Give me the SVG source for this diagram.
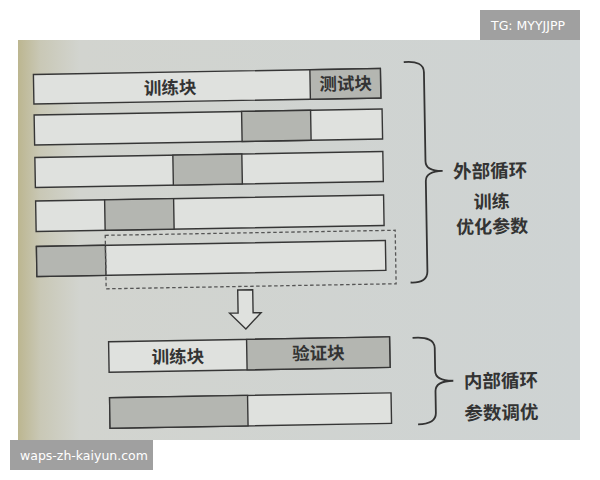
<svg xmlns="http://www.w3.org/2000/svg" width="600" height="480" viewBox="0 0 600 480">
<defs>
<linearGradient id="paper" x1="0" y1="0" x2="1" y2="0">
<stop offset="0" stop-color="#bcb690"/>
<stop offset="0.04" stop-color="#c9c8b6"/>
<stop offset="0.11" stop-color="#d2d4cf"/>
<stop offset="1" stop-color="#ced3d3"/>
</linearGradient>
<style>
.bar{fill:#dfe1de;stroke:#363636;stroke-width:1.4}
.dark{fill:#b4b6b1;stroke:#363636;stroke-width:1.4}
.lbl{font-family:"Noto Sans CJK SC","Noto Sans CJK JP",sans-serif;font-weight:bold;fill:#333;text-anchor:middle}
.brace{fill:none;stroke:#333;stroke-width:1.8}
.wm{font-family:"DejaVu Sans","Liberation Sans",sans-serif;fill:#ffffff;font-size:12.5px}
</style>
</defs>
<rect x="0" y="0" width="600" height="480" fill="#ffffff"/>
<rect x="18" y="40" width="562" height="400" fill="url(#paper)"/>
<g transform="rotate(-1 210 250)">
<g id="row1">
<rect class="bar" x="36.5" y="71.5" width="347" height="29.5"/>
<rect class="dark" x="313" y="71.5" width="70.5" height="29.5"/>
<text class="lbl" x="173" y="93.5" font-size="17.5">训练块</text>
<text class="lbl" x="348.5" y="92.5" font-size="17.5">测试块</text>
</g>
<g id="row2">
<rect class="bar" x="36.5" y="112" width="348" height="30"/>
<rect class="dark" x="244" y="112" width="69" height="30"/>
</g>
<g id="row3">
<rect class="bar" x="36.5" y="154.5" width="348" height="30"/>
<rect class="dark" x="174.5" y="154.5" width="69" height="30"/>
</g>
<g id="row4">
<rect class="bar" x="36.5" y="198" width="348" height="30.5"/>
<rect class="dark" x="105.5" y="198" width="69" height="30.5"/>
</g>
<g id="row5">
<rect class="bar" x="36.5" y="243.5" width="349" height="30"/>
<rect class="dark" x="36.5" y="243.5" width="69" height="30"/>
</g>
<g id="selection">
<rect x="105.5" y="233.5" width="290" height="53.5" fill="none" stroke="#555" stroke-width="1.3" stroke-dasharray="3.5 2.5"/>
</g>
<g id="outer-label">
<text class="lbl" x="491.5" y="182.5" font-size="18.5">外部循环</text>
<text class="lbl" x="492.5" y="213" font-size="18">训练</text>
<text class="lbl" x="492.5" y="238" font-size="18">优化参数</text>
</g>
<g id="rowA">
<rect class="bar" x="107" y="340" width="281" height="30.5"/>
<rect class="dark" x="245" y="340" width="143" height="30.5"/>
<text class="lbl" x="176" y="362.5" font-size="17.5">训练块</text>
<text class="lbl" x="316.5" y="361.5" font-size="17.5">验证块</text>
</g>
<g id="rowB">
<rect class="bar" x="107" y="396" width="281.5" height="30.5"/>
<rect class="dark" x="107" y="396" width="138" height="30.5"/>
</g>
<g id="inner-label">
<text class="lbl" x="498.5" y="392.5" font-size="18.5">内部循环</text>
<text class="lbl" x="498.5" y="424.5" font-size="18.5">参数调优</text>
</g>
<g id="connectors">
<path class="brace" d="M407 65.5 Q427 64 427 76 L427 165 Q427 175 444 175 Q427 175 427 185 L427 275 Q427 287 410 286"/>
<path d="M237 290.5 L252 290.5 L252 313.5 L260 313.5 L244.5 329.5 L228.5 313.5 L237 313.5 Z" fill="#dfe1de" stroke="#363636" stroke-width="1.4" stroke-linejoin="miter"/>
<path class="brace" d="M411 341.5 Q433 340 433 352 L433 375 Q433 385 451 385 Q433 385 433 395 L433 417 Q433 428 415 428"/>
</g>
</g>
<g id="watermark-tg">
<rect x="480" y="10" width="100" height="30" fill="#a0a0a0"/>
<text class="wm" x="491" y="30">TG: MYYJJPP</text>
</g>
<g id="watermark-site">
<rect x="10" y="440" width="143" height="30" fill="#a0a0a0"/>
<text class="wm" x="20" y="460">waps-zh-kaiyun.com</text>
</g>
</svg>
